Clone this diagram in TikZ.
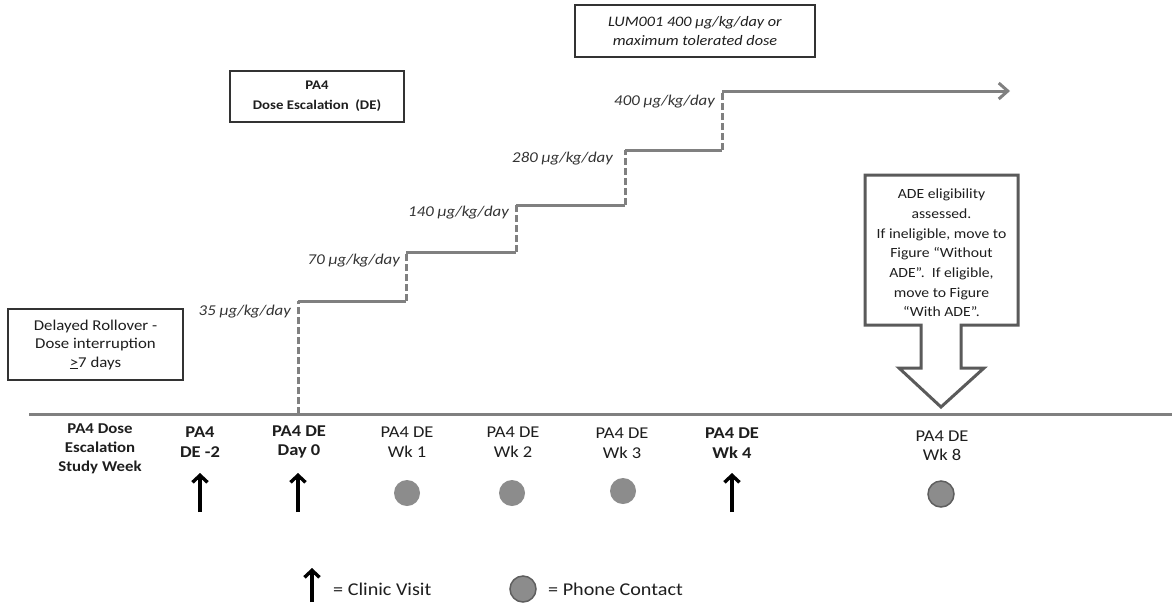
\documentclass[tikz,border=0pt]{standalone}
\usepackage{fontspec}
\setmainfont{Carlito}[FakeStretch=1.12]
\usetikzlibrary{arrows.meta}
\definecolor{linec}{HTML}{808080}
\definecolor{txt}{HTML}{1E1E1E}
\definecolor{dosec}{HTML}{333333}
\definecolor{boxc}{HTML}{333333}
\definecolor{dotc}{HTML}{8C8C8C}
\definecolor{dotline}{HTML}{5E5E5E}
\definecolor{callc}{HTML}{5A5A5A}
\begin{document}
\begin{tikzpicture}[x=1pt,y=-1pt,
  lbl/.style={font=\fontsize{16.5}{19.5}\selectfont, text=txt, align=center, inner sep=0pt},
  blbl/.style={lbl, font=\fontsize{16.5}{19.5}\selectfont\bfseries},
  dose/.style={font=\fontsize{15}{18}\selectfont\itshape, text=dosec, anchor=east, inner sep=0pt},
  box/.style={draw=boxc, line width=1.5pt, align=center, inner sep=0pt, text=txt},
  stepline/.style={draw=linec, line width=3pt},
  dashline/.style={draw=linec, line width=3pt, dash pattern=on 7pt off 3pt},
  visit/.style={draw=black, line width=3.4pt, -{Straight Barb[length=7pt,width=15pt]}},
  phone/.style={circle, fill=dotc, minimum size=26pt, inner sep=0pt},
  legtext/.style={anchor=west, font=\fontsize{18}{20}\selectfont, text=txt, inner sep=0pt},
]
\useasboundingbox (0,0) rectangle (1172,606);
\fill[white] (0,0) rectangle (1172,606);

% boxes
\node[box, minimum width=240pt, minimum height=52pt, font=\fontsize{14.5}{19}\selectfont\itshape] (lum) at (695,31) {LUM001 400 µg/kg/day or\\maximum tolerated dose};
\node[box, minimum width=174pt, minimum height=51pt, font=\fontsize{13.2}{20}\selectfont\bfseries] (pa4) at (317,96.5) {PA4\\Dose Escalation~~(DE)};
\node[box, line width=2pt, minimum width=175pt, minimum height=71pt, font=\fontsize{15}{18.5}\selectfont] (delay) at (95.5,344.5) {Delayed Rollover -\\Dose interruption\\\underline{>}7 days};

% timeline
\coordinate (tl0) at (29,414);
\coordinate (tl1) at (1172,414);
\draw[linec, line width=3pt] (tl0) -- (tl1);

% dose steps
\coordinate (d0) at (298,414);
\coordinate (a1) at (298,301); \coordinate (b1) at (406,301);
\coordinate (a2) at (406,252); \coordinate (b2) at (516,252);
\coordinate (a3) at (516,205); \coordinate (b3) at (625,205);
\coordinate (a4) at (625,150); \coordinate (b4) at (722,150);
\coordinate (a5) at (722,91);  \coordinate (e5) at (1010,91);
\draw[dashline] (d0) -- (a1);
\draw[stepline] (a1) -- (b1);
\draw[dashline] (b1) -- (a2);
\draw[stepline] (a2) -- (b2);
\draw[dashline] (b2) -- (a3);
\draw[stepline] (a3) -- (b3);
\draw[dashline] (b3) -- (a4);
\draw[stepline] (a4) -- (b4);
\draw[dashline] (b4) -- (a5);
\draw[stepline, -{Straight Barb[length=9pt,width=16pt]}] (a5) -- (e5);

\node[dose] (l35) at (291,312) {35 µg/kg/day};
\node[dose] (l70) at (400,261) {70 µg/kg/day};
\node[dose] (l140) at (509,213) {140 µg/kg/day};
\node[dose] (l280) at (613,159) {280 µg/kg/day};
\node[dose] (l400) at (715,102) {400 µg/kg/day};

% ADE callout
\draw[callc, line width=3pt, line join=miter, fill=white] (865,175) -- (1018,175) -- (1018,325) -- (961,325) -- (961,368) -- (984,368) -- (941,407) -- (899,368) -- (921,368) -- (921,325) -- (865,325) -- cycle;
\node[lbl, font=\fontsize{14}{19.7}\selectfont] (ade) at (941.5,253) {ADE eligibility\\assessed.\\If ineligible, move to\\Figure “Without\\ADE”.~~If eligible,\\move to Figure\\“With ADE”.};

% timeline labels
\node[blbl, font=\fontsize{15}{19}\selectfont\bfseries] (sw) at (100,449) {PA4 Dose\\Escalation\\Study Week};
\node[blbl] (de2) at (200,442) {PA4\\DE -2};
\node[blbl] (day0) at (299,442) {PA4 DE\\Day 0};
\node[lbl] (wk1) at (407,442) {PA4 DE\\Wk 1};
\node[lbl] (wk2) at (513,442) {PA4 DE\\Wk 2};
\node[lbl] (wk3) at (622,443) {PA4 DE\\Wk 3};
\node[blbl] (wk4) at (732,443) {PA4 DE\\Wk 4};
\node[lbl] (wk8) at (942,446) {PA4 DE\\Wk 8};

% markers
\coordinate (v1s) at (200,512); \coordinate (v1e) at (200,473);
\coordinate (v2s) at (298,512); \coordinate (v2e) at (298,473);
\coordinate (v3s) at (732,512); \coordinate (v3e) at (732,473);
\draw[visit] (v1s) -- (v1e);
\draw[visit] (v2s) -- (v2e);
\draw[visit] (v3s) -- (v3e);
\node[phone] (p1) at (407,493) {};
\node[phone] (p2) at (512,493) {};
\node[phone] (p3) at (623,491) {};
\node[phone, draw=dotline, line width=1.5pt] (p8) at (941,494) {};

% legend
\coordinate (lvs) at (312,602); \coordinate (lve) at (312,568);
\draw[visit] (lvs) -- (lve);
\node[legtext] (lv) at (333,589) {= Clinic Visit};
\node[phone, draw=dotline, line width=1.5pt] (lp) at (523,589) {};
\node[legtext] (lpt) at (548,589) {= Phone Contact};
\end{tikzpicture}
\end{document}
